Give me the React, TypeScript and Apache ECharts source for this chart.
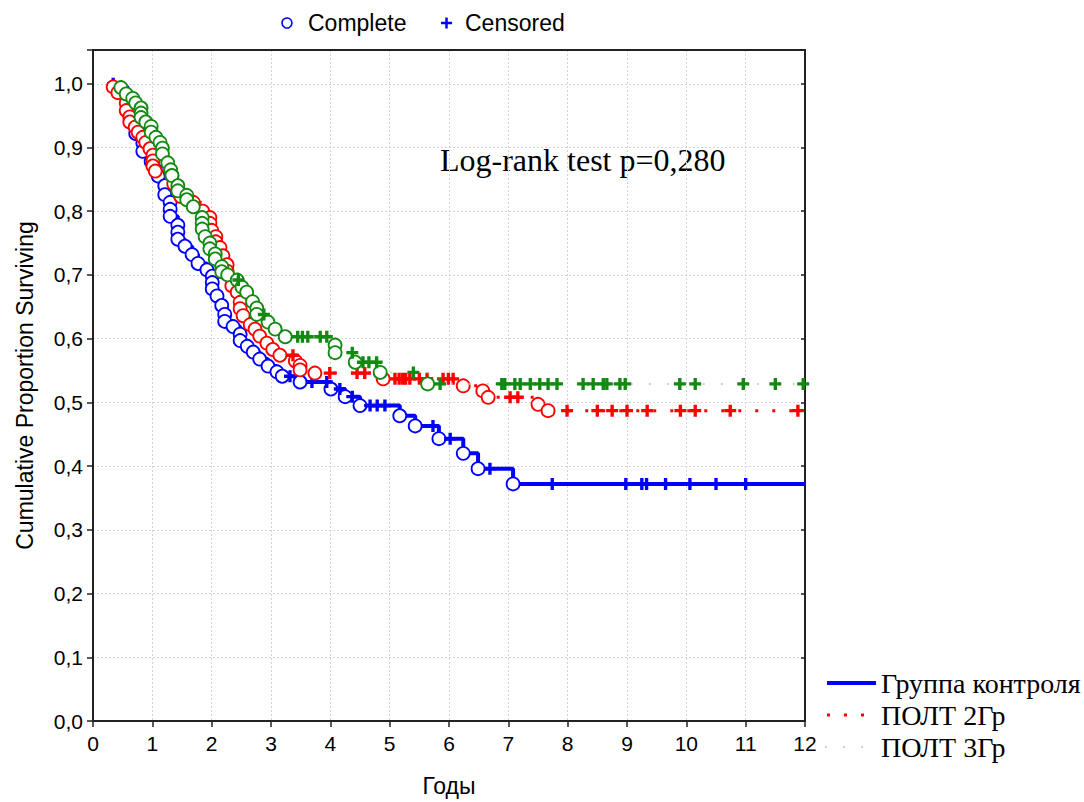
import React, { useEffect, useRef } from "react";
import * as echarts from "echarts";

// ---- Data ----
const xTicks = [0, 1, 2, 3, 4, 5, 6, 7, 8, 9, 10, 11, 12];
const yTicks = [0, 0.1, 0.2, 0.3, 0.4, 0.5, 0.6, 0.7, 0.8, 0.9, 1.0];

const groupNames = ["Группа контроля", "ПОЛТ 2Гр", "ПОЛТ 3Гр"];

// Группа контроля: event times & survival after each event
const controlEventT = [0.50,0.62,0.70,0.72,0.72,0.84,0.84,0.98,1.05,1.10,1.21,1.21,1.30,1.30,1.30,1.43,1.43,1.43,1.55,1.67,1.77,1.92,2.01,2.01,2.01,2.09,2.17,2.22,2.22,2.36,2.48,2.48,2.60,2.70,2.81,2.95,3.10,3.19,3.49,4.01,4.25,4.50,5.17,5.43,5.83,6.24,6.49,7.08];
const controlEventS = [0.990,0.975,0.958,0.935,0.922,0.907,0.894,0.878,0.865,0.855,0.840,0.826,0.814,0.803,0.792,0.778,0.767,0.756,0.745,0.732,0.718,0.708,0.698,0.688,0.678,0.667,0.652,0.638,0.627,0.619,0.607,0.597,0.588,0.579,0.568,0.557,0.548,0.541,0.532,0.521,0.509,0.495,0.479,0.463,0.443,0.420,0.396,0.372];
const controlCensT = [0.34,3.32,3.69,3.94,4.16,4.37,4.67,4.79,4.92,5.73,6.02,6.69,7.74,8.98,9.25,9.33,9.65,10.06,10.5,11.0];

// ПОЛТ 2Гр
const polt2EventT = [0.34,0.42,0.56,0.56,0.62,0.62,0.71,0.76,0.84,0.89,0.96,1.01,1.01,1.01,1.05,1.33,1.36,1.48,1.69,1.85,1.97,1.97,2.00,2.07,2.07,2.14,2.19,2.26,2.26,2.34,2.43,2.48,2.48,2.53,2.65,2.73,2.81,2.93,3.03,3.15,3.41,3.49,3.49,3.74,4.89,6.24,6.57,6.66,7.50,7.67];
const polt2EventS = [0.995,0.986,0.970,0.958,0.948,0.940,0.932,0.924,0.916,0.908,0.898,0.888,0.879,0.871,0.863,0.856,0.843,0.823,0.814,0.800,0.790,0.781,0.770,0.760,0.752,0.743,0.730,0.716,0.706,0.683,0.673,0.657,0.647,0.636,0.622,0.615,0.604,0.593,0.583,0.574,0.565,0.558,0.551,0.546,0.537,0.526,0.518,0.508,0.497,0.487];
const polt2CensT = [3.37,3.99,4.45,4.58,5.09,5.16,5.22,5.27,5.34,5.50,5.63,5.90,5.99,6.07,7.03,7.16,7.99,8.50,8.75,9.00,9.34,9.90,10.15,10.74,11.88];

// ПОЛТ 3Гр
const polt3EventT = [0.47,0.56,0.67,0.72,0.81,0.81,0.81,0.89,0.98,0.98,1.06,1.13,1.17,1.17,1.26,1.31,1.33,1.43,1.43,1.58,1.58,1.69,1.84,1.84,1.84,1.89,1.97,1.97,2.06,2.06,2.17,2.17,2.27,2.43,2.51,2.59,2.69,2.76,2.76,2.95,3.07,3.24,4.08,4.08,4.42,4.84,5.64];
const polt3EventS = [0.994,0.984,0.977,0.970,0.962,0.954,0.947,0.940,0.933,0.924,0.916,0.908,0.899,0.890,0.876,0.865,0.856,0.840,0.832,0.825,0.818,0.807,0.790,0.781,0.772,0.760,0.750,0.741,0.733,0.725,0.713,0.705,0.700,0.692,0.681,0.673,0.658,0.648,0.638,0.626,0.615,0.603,0.590,0.578,0.563,0.547,0.529];
const polt3CensT = [2.45,2.88,3.45,3.53,3.62,3.83,3.94,4.37,4.55,4.65,4.78,5.40,5.85,6.89,6.94,7.11,7.20,7.37,7.53,7.67,7.82,8.26,8.43,8.60,8.66,8.88,8.97,9.89,10.15,10.96,11.50,11.97];

const pValueText = "Log-rank test p=0,280";

// ---- helpers ----
const X_MAX = 12;
const Y_MAX = 1.053;

function survAt(evT: number[], evS: number[], t: number): number {
  let s = 1;
  for (let i = 0; i < evT.length; i++) if (evT[i] <= t) s = evS[i];
  return s;
}

function buildGroup(evT: number[], evS: number[], censT: number[]) {
  const events = evT.map((t, i) => [t, evS[i]]);
  const cens = censT.map((t) => [t, survAt(evT, evS, t)]);
  const all = [...events.map((p) => ({ p, k: 0 })), ...cens.map((p) => ({ p, k: 1 }))]
    .sort((a, b) => a.p[0] - b.p[0] || a.k - b.k)
    .map((o) => o.p);
  const lastS = evS[evS.length - 1];
  const line = [[all[0][0], 1], ...all, [X_MAX, lastS]];
  return { events, cens, line };
}

const PLUS = "path://M3.6,0H6.4V3.6H10V6.4H6.4V10H3.6V6.4H0V3.6H3.6Z";

export default function App() {
  const ref = useRef<HTMLDivElement>(null);
  useEffect(() => {
    if (!ref.current) return;
    const chart = echarts.init(ref.current, null, { renderer: "svg" });
    const groups = [
      { data: buildGroup(controlEventT, controlEventS, controlCensT), color: "#0000ff", line: { width: 4, type: "solid" as any, color: "#0000ff" } },
      { data: buildGroup(polt2EventT, polt2EventS, polt2CensT), color: "#ff0000", line: { width: 3, type: [3, 14] as any, color: "#ff0000" } },
      { data: buildGroup(polt3EventT, polt3EventS, polt3CensT), color: "#128a12", line: { width: 1.5, type: [2, 16] as any, color: "#a6d8a6" } },
    ];
    const series: any[] = [];
    groups.forEach((g, gi) => {
      series.push({
        name: groupNames[gi],
        type: "line",
        step: "end",
        data: g.data.line,
        symbol: "none",
        lineStyle: g.line,
        z: 2 + gi * 3,
      });
      series.push({
        name: groupNames[gi] + " complete",
        type: "scatter",
        data: g.data.events,
        symbol: "circle",
        symbolSize: 13,
        itemStyle: { color: "#ffffff", borderColor: g.color, borderWidth: 1.8, opacity: 1 },
        z: 3 + gi * 3,
      });
      series.push({
        name: groupNames[gi] + " censored",
        type: "scatter",
        data: g.data.cens,
        symbol: PLUS,
        symbolSize: 12,
        itemStyle: { color: g.color, opacity: 1 },
        z: 4 + gi * 3,
      });
    });

    const fmt = (v: number) => (v > 1.0001 ? "" : v.toFixed(1).replace(".", ","));
    const axisLine = { show: true, onZero: false, lineStyle: { color: "#222", width: 2 } };
    const split = { show: true, lineStyle: { color: "#d4d4d4", type: [2, 2] as any, width: 1 } };
    const font = "Liberation Sans";

    chart.setOption({
      animation: false,
      grid: { left: 93, right: 279, top: 50, bottom: 79 },
      xAxis: [
        {
          type: "value", min: xTicks[0], max: X_MAX, interval: 1,
          axisLine, axisTick: { show: true, length: 6, lineStyle: { color: "#222", width: 1.5 } },
          axisLabel: { fontFamily: font, fontSize: 21, color: "#000", margin: 12 },
          splitLine: split,
          name: "Годы", nameLocation: "middle", nameGap: 53,
          nameTextStyle: { fontFamily: font, fontSize: 23, color: "#000" },
        },
        {
          type: "value", position: "top", min: 0, max: X_MAX, interval: 1,
          axisLine, axisTick: { show: false }, axisLabel: { show: false }, splitLine: { show: false },
        },
      ],
      yAxis: [
        {
          type: "value", min: yTicks[0], max: Y_MAX, interval: 0.1,
          axisLine, axisTick: { show: true, length: 6, lineStyle: { color: "#222", width: 1.5 } },
          axisLabel: { fontFamily: font, fontSize: 21, color: "#000", margin: 10, formatter: fmt },
          splitLine: split,
          name: "Cumulative Proportion Surviving", nameLocation: "middle", nameGap: 57,
          nameTextStyle: { fontFamily: font, fontSize: 23, color: "#000" },
        },
        {
          type: "value", position: "right", min: 0, max: Y_MAX, interval: 0.1,
          axisLine, axisTick: { show: true, inside: true, length: 4, lineStyle: { color: "#222", width: 1.5 } },
          axisLabel: { show: false }, splitLine: { show: false },
        },
      ],
      series,
      graphic: [
        { type: "circle", shape: { cx: 287, cy: 23, r: 5 }, style: { fill: "#fff", stroke: "#0000ff", lineWidth: 1.6 } },
        { type: "text", x: 308, y: 23, style: { text: "Complete", fontFamily: font, fontSize: 23, fill: "#000", verticalAlign: "middle", align: "left" } },
        { type: "line", shape: { x1: 441, y1: 23, x2: 452, y2: 23 }, style: { stroke: "#0000ff", lineWidth: 2.5 } },
        { type: "line", shape: { x1: 446.5, y1: 17.5, x2: 446.5, y2: 28.5 }, style: { stroke: "#0000ff", lineWidth: 2.5 } },
        { type: "text", x: 465, y: 23, style: { text: "Censored", fontFamily: font, fontSize: 23, fill: "#000", verticalAlign: "middle", align: "left" } },
        { type: "text", x: 440, y: 160, style: { text: pValueText, fontFamily: "Liberation Serif", fontSize: 32, fill: "#000", verticalAlign: "middle", align: "left" } },
        { type: "line", shape: { x1: 827, y1: 683, x2: 876, y2: 683 }, style: { stroke: "#0000ff", lineWidth: 4 } },
        { type: "text", x: 881, y: 683, style: { text: groupNames[0], fontFamily: "Liberation Serif", fontSize: 28, fill: "#000", verticalAlign: "middle", align: "left" } },
        { type: "line", shape: { x1: 827, y1: 715, x2: 876, y2: 715 }, style: { stroke: "#ff0000", lineWidth: 3, lineDash: [3, 14] } },
        { type: "text", x: 881, y: 715, style: { text: groupNames[1], fontFamily: "Liberation Serif", fontSize: 28, fill: "#000", verticalAlign: "middle", align: "left" } },
        { type: "line", shape: { x1: 825, y1: 747, x2: 876, y2: 747 }, style: { stroke: "#a6d8a6", lineWidth: 1.5, lineDash: [2, 16] } },
        { type: "text", x: 881, y: 747, style: { text: groupNames[2], fontFamily: "Liberation Serif", fontSize: 28, fill: "#000", verticalAlign: "middle", align: "left" } },
      ],
    });
    return () => chart.dispose();
  }, []);
  return <div ref={ref} style={{ position: "fixed", left: 0, top: 0, width: 1084, height: 802, background: "#fff" }} />;
}
